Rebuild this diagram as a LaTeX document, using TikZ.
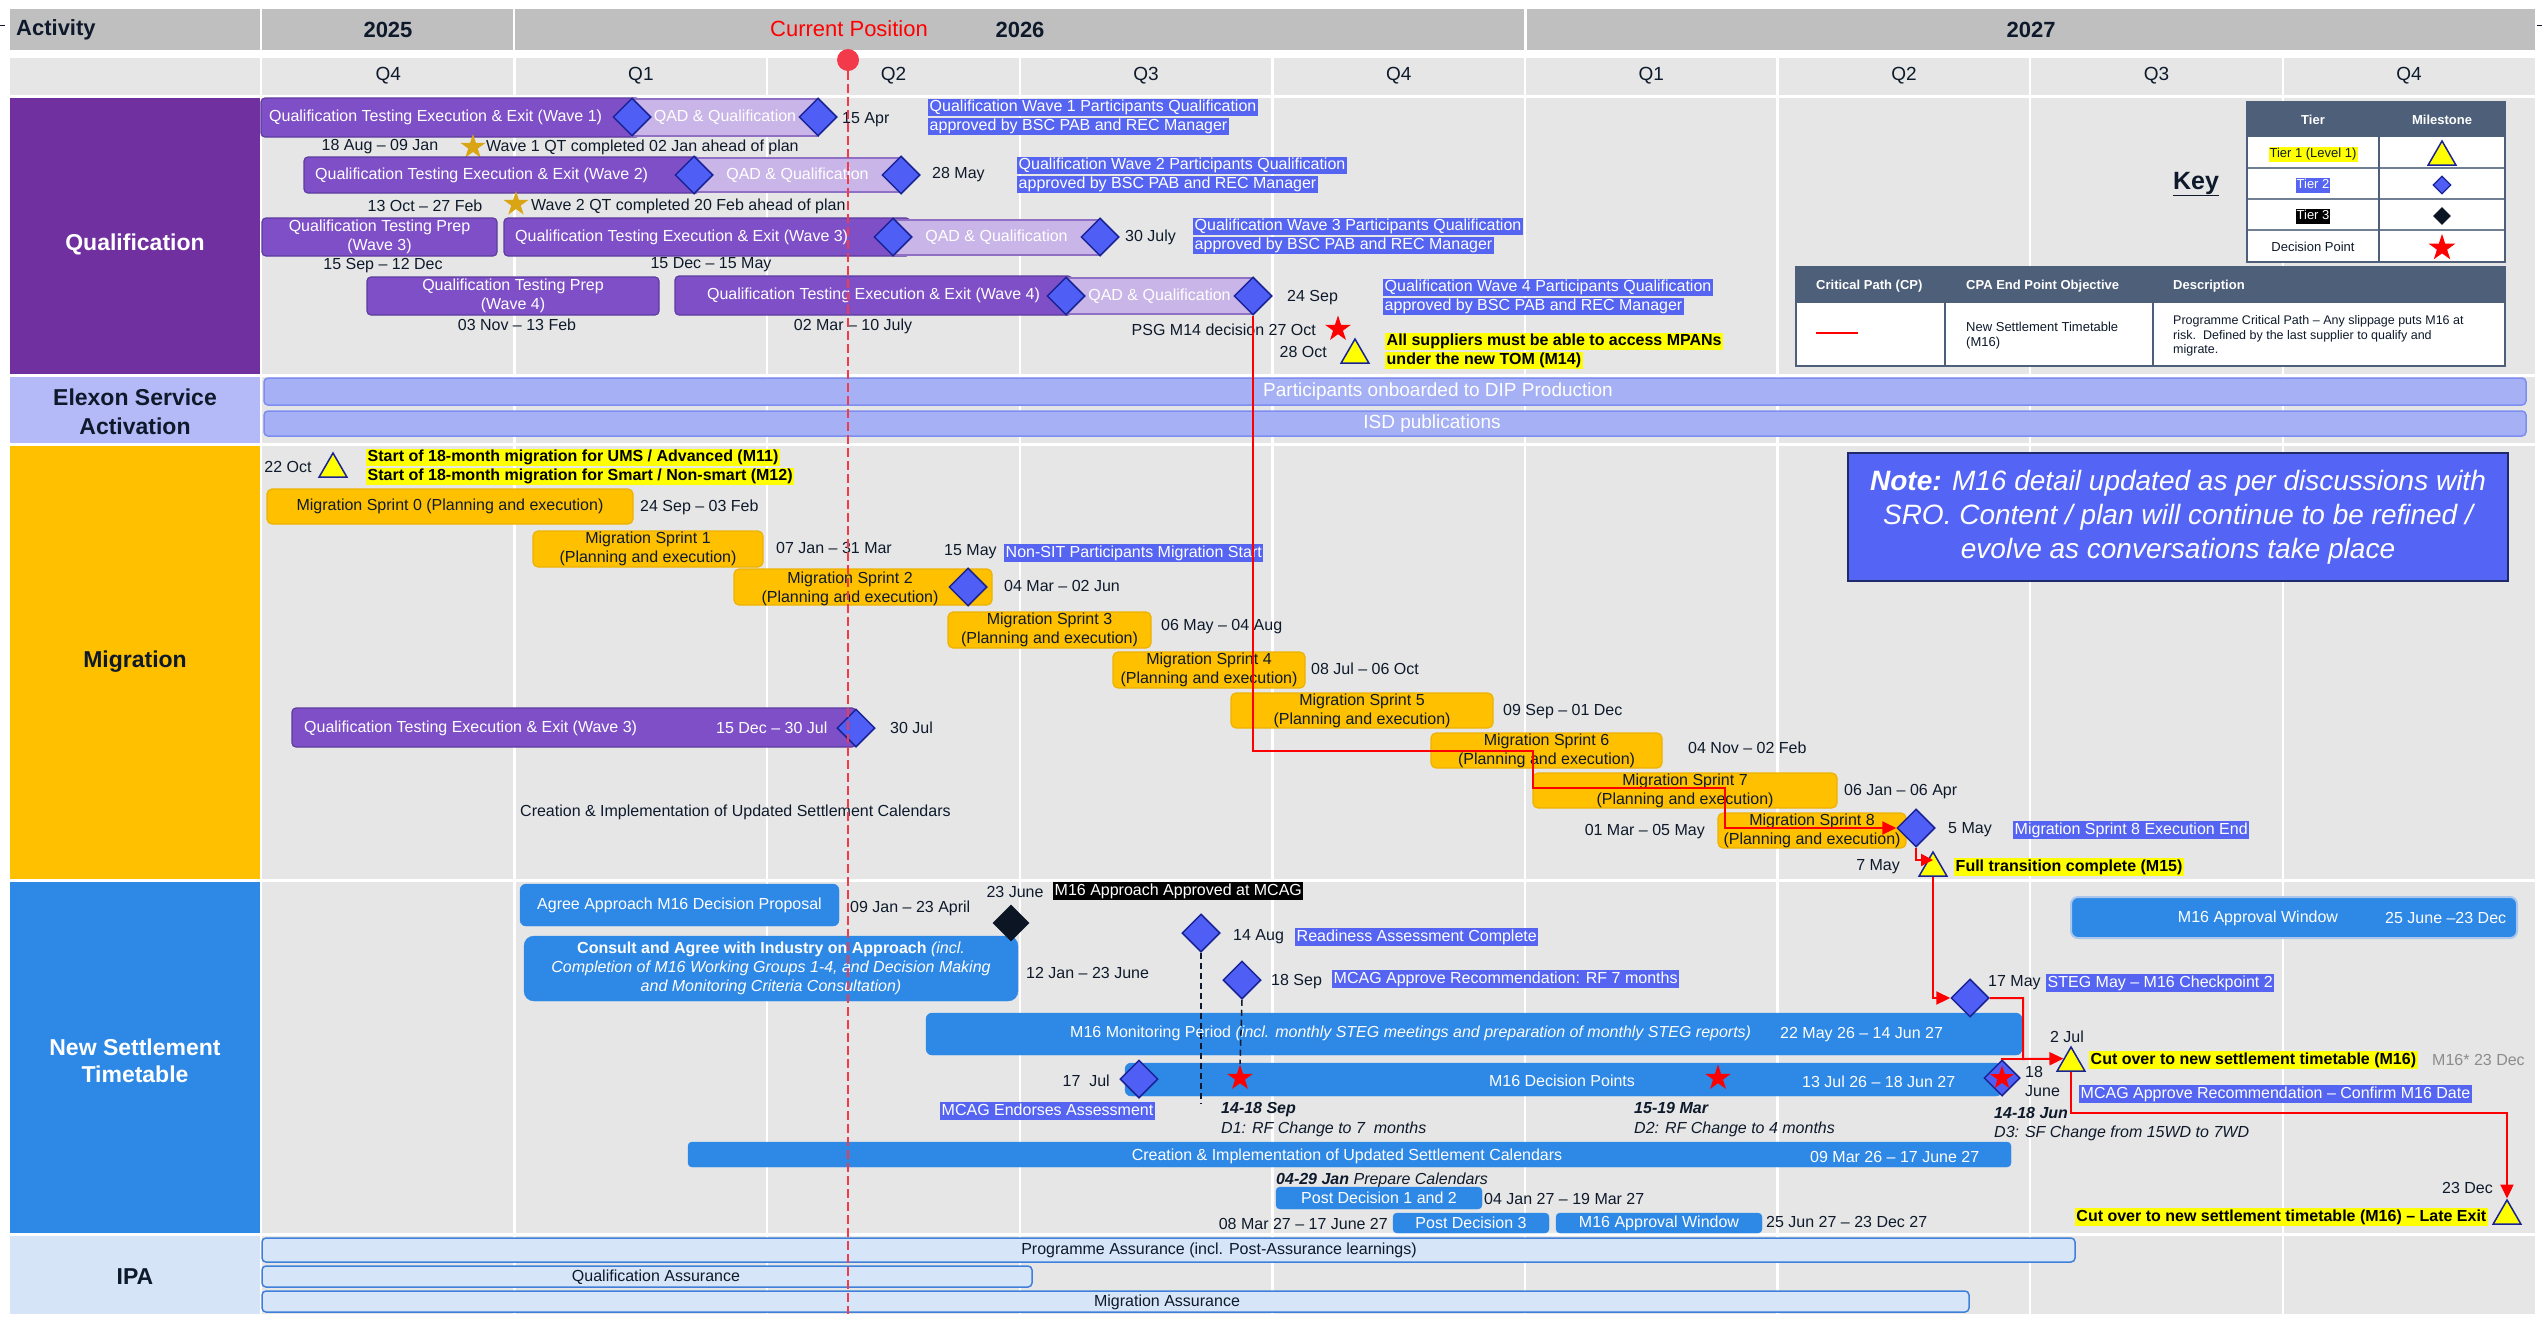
\documentclass[tikz,border=0pt]{standalone}
\usepackage{fontspec}
\setmainfont{Liberation Sans}
\usetikzlibrary{shapes.geometric,arrows.meta}

% palette
\definecolor{ink}{HTML}{0E1A2B}
\definecolor{yeargray}{HTML}{BFBFBF}
\definecolor{cellgray}{HTML}{E6E6E6}
\definecolor{qualpurple}{HTML}{7030A0}
\definecolor{execfill}{HTML}{7F4FC7}
\definecolor{execedge}{HTML}{5E3B9E}
\definecolor{qadfill}{HTML}{C9B5E7}
\definecolor{qadedge}{HTML}{8F70C4}
\definecolor{msfill}{HTML}{4F5FF5}
\definecolor{msedge}{HTML}{1A2396}
\definecolor{blackdia}{HTML}{0B1524}
\definecolor{hlblue}{HTML}{5565F2}
\definecolor{elexlab}{HTML}{B3BAF7}
\definecolor{elexfill}{HTML}{A5B0F5}
\definecolor{elexedge}{HTML}{7D8DF1}
\definecolor{miggold}{HTML}{FFC000}
\definecolor{migedge}{HTML}{EDB100}
\definecolor{nstblue}{HTML}{2E88E6}
\definecolor{nstedge}{HTML}{A9C7EC}
\definecolor{ipalab}{HTML}{D5E4F7}
\definecolor{ipafill}{HTML}{D6E5F8}
\definecolor{ipaedge}{HTML}{3F80DA}
\definecolor{keyhead}{HTML}{4E5F7A}
\definecolor{hlyellow}{HTML}{FFFF00}
\definecolor{cpred}{HTML}{FF0000}
\definecolor{nowred}{HTML}{F23A4A}
\definecolor{starGold}{HTML}{D9A514}
\definecolor{softgray}{HTML}{8C8C8C}
\definecolor{notefill}{HTML}{5464F4}
\definecolor{noteedge}{HTML}{1E2A6A}

\newcommand\fsz[2]{\fontsize{#1}{#2}\selectfont}
\setlength\fboxsep{0pt}
\newcommand\hstrut{\rule[-4.5pt]{0pt}{17.5pt}}
\newcommand\hlb[1]{\colorbox{hlblue}{\hstrut\kern1.5pt\textcolor{white}{#1}\kern1.5pt}}
\newcommand\hly[1]{\colorbox{hlyellow}{\hstrut\kern1.5pt\textbf{#1}\kern1.5pt}}
\newcommand\hlk[1]{\colorbox{black}{\hstrut\kern1.5pt\textcolor{white}{#1}\kern1.5pt}}
\newcommand\hlsmall[3]{\colorbox{#1}{\strut\kern1pt\textcolor{#2}{#3}\kern1pt}}

% bar from (x1,y1) to (x2,y2): name, style, x1, y1, x2, y2, text
\newcommand\ganttbar[7]{%
  \pgfmathsetmacro\gbW{#5-#3}%
  \pgfmathsetmacro\gbH{#6-#4}%
  \pgfmathsetmacro\gbX{(#3+#5)/2}%
  \pgfmathsetmacro\gbY{(#4+#6)/2}%
  \node[#2, minimum width=\gbW pt, minimum height=\gbH pt] (#1) at (\gbX,\gbY) {#7};%
}

\tikzset{
  txt/.style={inner sep=0pt, font=\fsz{16}{19}, text=ink},
  hdr/.style={inner sep=0pt, font=\fsz{22}{26}\bfseries, text=ink},
  qtr/.style={inner sep=0pt, font=\fsz{19}{22}, text=ink},
  seclab/.style={inner sep=0pt, font=\fsz{23}{28}\bfseries, text=ink, align=center},
  hl/.style={inner sep=0pt, font=\fsz{16}{19}, align=left},
  execbar/.style={draw=execedge, fill=execfill, line width=1.2pt, rounded corners=4pt, inner sep=0pt, text=white, font=\fsz{16}{19}, align=center},
  qadbar/.style={draw=qadedge, fill=qadfill, line width=1.2pt, inner sep=0pt, text=white, font=\fsz{16}{19}},
  bartxt/.style={inner sep=0pt, font=\fsz{16}{19}, text=white},
  elexbar/.style={draw=elexedge, fill=elexfill, line width=1.5pt, rounded corners=4pt, inner sep=0pt},
  sprint/.style={draw=migedge, fill=miggold, line width=1.2pt, rounded corners=5pt, inner sep=0pt, align=center, font=\fsz{16}{19}, text=ink},
  nstbar/.style={draw=nstblue, fill=nstblue, rounded corners=6pt, inner sep=0pt, align=center, font=\fsz{16}{19}, text=white},
  ipabar/.style={draw=ipaedge, fill=ipafill, line width=1.5pt, rounded corners=4pt, inner sep=0pt},
  ms/.style={diamond, draw=msedge, fill=msfill, line width=1.5pt, minimum width=38pt, minimum height=38pt, inner sep=0pt},
  tierthree/.style={diamond, fill=blackdia, minimum width=37pt, minimum height=37pt, inner sep=0pt},
  tri/.style={regular polygon, regular polygon sides=3, draw=msedge, fill=hlyellow, line width=1.5pt, minimum size=32pt, inner sep=0pt},
  decstar/.style={star, star points=5, star point ratio=2.6, fill=red, minimum size=27pt, inner sep=0pt},
  goldstar/.style={decstar, fill=starGold, minimum size=26pt},
  cp/.style={draw=cpred, line width=2pt},
  cparrow/.style={cp, -{Triangle[length=14pt,width=13pt]}},
  keytxt/.style={inner sep=0pt, font=\fsz{13}{15}, text=ink},
  keyhd/.style={inner sep=0pt, font=\fsz{13}{15}\bfseries, text=white},
  nowline/.style={draw=nowred, line width=2pt, dash pattern=on 9pt off 4pt},
  guide/.style={draw=ink, line width=1.5pt, dash pattern=on 6pt off 4pt}
}

\begin{document}
\begin{tikzpicture}[x=1pt, y=-1pt]
\useasboundingbox (0,0) rectangle (2542,1318);
\fill[white] (0,0) rectangle (2542,1318);

% ---------------- grid ----------------
\fill[yeargray] (10,9) rectangle (260,50);
\fill[yeargray] (262,9) rectangle (513,50);
\fill[yeargray] (515,9) rectangle (1524,50);
\fill[yeargray] (1527,9) rectangle (2535,50);
\fill[cellgray] (10,58) rectangle (260,95);
\fill[cellgray] (262,58) rectangle (2535,95);
\fill[cellgray] (262,98) rectangle (2535,374);
\fill[cellgray] (262,377) rectangle (2535,443);
\fill[cellgray] (262,446) rectangle (2535,879);
\fill[cellgray] (262,882) rectangle (2535,1233);
\fill[cellgray] (262,1236) rectangle (2535,1314);
\foreach \k in {1,...,8}
  \draw[white, line width=2.5pt] ({262+252.6*\k},58) -- ({262+252.6*\k},1314);
\fill[qualpurple] (10,98) rectangle (260,374);
\fill[elexlab] (10,377) rectangle (260,443);
\fill[miggold] (10,446) rectangle (260,879);
\fill[nstblue] (10,882) rectangle (260,1233);
\fill[ipalab] (10,1236) rectangle (260,1314);
\draw[ink, line width=1pt] (0,25) -- (5,25);
\draw[ink, line width=1pt] (2537,25) -- (2542,25);

% ---------------- header ----------------
\node[hdr, anchor=west] (hAct) at (16,30) {Activity};
\node[hdr] (y2025) at (388,30) {2025};
\node[hdr] (y2026) at (1020,30) {2026};
\node[hdr] (y2027) at (2031,30) {2027};
\node[inner sep=0pt, font=\fsz{22}{26}, text=red] (curpos) at (849,29) {Current Position};
\foreach \i/\q in {1/Q4,2/Q1,3/Q2,4/Q3,5/Q4,6/Q1,7/Q2,8/Q3,9/Q4}
  \node[qtr] (qtr\i) at ({262+252.6*\i-126.3},76) {\q};

% ---------------- section labels ----------------
\node[seclab, text=white] (labQual) at (135,244) {Qualification};
\node[seclab, font=\fsz{23}{29}\bfseries] (labElex) at (135,412) {Elexon Service\\Activation};
\node[seclab] (labMig) at (135,662) {Migration};
\node[seclab, text=white, font=\fsz{23}{27}\bfseries] (labNst) at (135,1061) {New Settlement\\Timetable};
\node[seclab] (labIpa) at (135,1277) {IPA};

% ---------------- qualification ----------------
\ganttbar{w1exec}{execbar}{261}{98}{640}{137}{}
\node[bartxt, anchor=west] (w1exect) at (269,117) {Qualification Testing Execution \& Exit (Wave 1)};
\ganttbar{w1qad}{qadbar}{632}{99}{818}{136}{QAD \& Qualification}
\node[ms] (d1a) at (632,117) {};
\node[ms] (d1b) at (818,117) {};
\node[txt, anchor=west] (w1end) at (842,120) {15 Apr};
\node[txt] (w1dates) at (380,147) {18 Aug -- 09 Jan};
\node[goldstar] (s1) at (473,147) {};
\node[txt, anchor=west] (w1early) at (486,147) {Wave 1 QT completed 02 Jan ahead of plan};
\node[hl, anchor=west] (w1hl) at (928,117) {\hlb{Qualification Wave 1 Participants Qualification}\\\hlb{approved by BSC PAB and REC Manager}};

\ganttbar{w2exec}{execbar}{304}{157}{700}{193}{}
\node[bartxt, anchor=west] (w2exect) at (315,175) {Qualification Testing Execution \& Exit (Wave 2)};
\ganttbar{w2qad}{qadbar}{694}{158}{901}{192}{QAD \& Qualification}
\node[ms] (d2a) at (694,175) {};
\node[ms] (d2b) at (901,175) {};
\node[txt, anchor=west] (w2end) at (932,175) {28 May};
\node[txt] (w2dates) at (425,206) {13 Oct -- 27 Feb};
\node[goldstar] (s2) at (516,204) {};
\node[txt, anchor=west] (w2early) at (531,206) {Wave 2 QT completed 20 Feb ahead of plan};
\node[hl, anchor=west] (w2hl) at (1017,175) {\hlb{Qualification Wave 2 Participants Qualification}\\\hlb{approved by BSC PAB and REC Manager}};

\ganttbar{p3}{execbar}{262}{218}{497}{256}{Qualification Testing Prep\\(Wave 3)}
\node[txt] (p3dates) at (383,266) {15 Sep -- 12 Dec};
\ganttbar{w3exec}{execbar}{504}{218}{910}{256}{}
\node[bartxt, anchor=west] (w3exect) at (515,237) {Qualification Testing Execution \& Exit (Wave 3)};
\ganttbar{w3qad}{qadbar}{893}{220}{1100}{255}{QAD \& Qualification}
\node[ms] (d3a) at (893,237) {};
\node[ms] (d3b) at (1100,237) {};
\node[txt, anchor=west] (w3end) at (1125,237) {30 July};
\node[txt] (w3dates) at (711,265) {15 Dec -- 15 May};
\node[hl, anchor=west] (w3hl) at (1193,236) {\hlb{Qualification Wave 3 Participants Qualification}\\\hlb{approved by BSC PAB and REC Manager}};

\ganttbar{p4}{execbar}{367}{277}{659}{315}{Qualification Testing Prep\\(Wave 4)}
\node[txt] (p4dates) at (517,325) {03 Nov -- 13 Feb};
\ganttbar{w4exec}{execbar}{675}{276}{1072}{315}{Qualification Testing Execution \& Exit (Wave 4)}
\ganttbar{w4qad}{qadbar}{1066}{278}{1253}{314}{QAD \& Qualification}
\node[ms] (d4a) at (1066,296) {};
\node[ms] (d4b) at (1253,296) {};
\node[txt, anchor=west] (w4end) at (1287,298) {24 Sep};
\node[txt] (w4dates) at (853,326) {02 Mar -- 10 July};
\node[hl, anchor=west] (w4hl) at (1383,297) {\hlb{Qualification Wave 4 Participants Qualification}\\\hlb{approved by BSC PAB and REC Manager}};

\node[txt, anchor=east] (psg) at (1316,330) {PSG M14 decision 27 Oct};
\node[decstar] (psgstar) at (1338,329) {};
\node[txt, anchor=east] (m14date) at (1327,352) {28 Oct};
\node[tri] (tM14) at (1355,355) {};
\node[hl, anchor=west] (m14txt) at (1385,351) {\hly{All suppliers must be able to access MPANs}\\\hly{under the new TOM (M14)}};

% ---------------- key ----------------
\node[inner sep=0pt, font=\fsz{25}{28}\bfseries, text=ink] (keyttl) at (2196,184) {\underline{Key}};
\fill[keyhead] (2247,102) rectangle (2505,137);
\fill[white] (2247,137) rectangle (2505,262);
\foreach \yy in {168,199,230} \draw[keyhead!80, line width=1.2pt] (2247,\yy) -- (2505,\yy);
\draw[keyhead, line width=1.2pt] (2379,102) -- (2379,262);
\draw[keyhead, line width=1.5pt] (2247,102) rectangle (2505,262);
\node[keyhd] (kTier) at (2313,120) {Tier};
\node[keyhd] (kMile) at (2442,120) {Milestone};
\node[keytxt] (kT1) at (2313,154) {\hlsmall{hlyellow}{ink}{Tier 1 (Level 1)}};
\node[keytxt] (kT2) at (2313,185) {\hlsmall{hlblue}{white}{Tier 2}};
\node[keytxt] (kT3) at (2313,216) {\hlsmall{black}{white}{Tier 3}};
\node[keytxt] (kT4) at (2313,247) {Decision Point};
\node[tri] (ktri) at (2442,157) {};
\node[ms, minimum width=18pt, minimum height=18pt, line width=1.2pt] (kdia) at (2442,185) {};
\node[tierthree, minimum width=18pt, minimum height=18pt] (kblk) at (2442,216) {};
\node[decstar, minimum size=28pt] (kstar) at (2442,248) {};

\fill[keyhead] (1796,267) rectangle (2505,303);
\fill[white] (1796,303) rectangle (2505,366);
\draw[keyhead, line width=1.2pt] (1945,267) -- (1945,366);
\draw[keyhead, line width=1.2pt] (2153,267) -- (2153,366);
\draw[keyhead, line width=1.5pt] (1796,267) rectangle (2505,366);
\node[keyhd, anchor=west] (cpH1) at (1816,286) {Critical Path (CP)};
\node[keyhd, anchor=west] (cpH2) at (1966,286) {CPA End Point Objective};
\node[keyhd, anchor=west] (cpH3) at (2173,286) {Description};
\draw[cpred, line width=1.5pt] (1816,333) -- (1858,333);
\node[keytxt, anchor=west, align=left] (cpObj) at (1966,336) {New Settlement Timetable\\(M16)};
\node[keytxt, anchor=west, align=left, font=\fsz{12.5}{14.5}] (cpDesc) at (2173,336) {Programme Critical Path -- Any slippage puts M16 at\\risk.\ \ Defined by the last supplier to qualify and\\migrate.};

% ---------------- Elexon service activation ----------------
\ganttbar{dip}{elexbar}{264}{378}{2526}{405}{}
\node[inner sep=0pt, font=\fsz{19}{22}, text=white] (diptxt) at (1438,392) {Participants onboarded to DIP Production};
\ganttbar{isd}{elexbar}{264}{411}{2526}{436}{}
\node[inner sep=0pt, font=\fsz{19}{22}, text=white] (isdtxt) at (1432,424) {ISD publications};

% ---------------- migration ----------------
\node[txt] (m11date) at (288,467) {22 Oct};
\node[tri] (tM11) at (333,469) {};
\node[hl, anchor=west] (m11txt) at (366,467) {\hly{Start of 18-month migration for UMS / Advanced (M11)}\\\hly{Start of 18-month migration for Smart / Non-smart (M12)}};

\ganttbar{spr0}{sprint}{267}{489}{633}{524}{Migration Sprint 0 (Planning and execution)}
\node[txt, anchor=west] (spr0d) at (640,507) {24 Sep -- 03 Feb};
\ganttbar{spr1}{sprint}{533}{531}{763}{567}{Migration Sprint 1\\(Planning and execution)}
\node[txt, anchor=west] (spr1d) at (776,548) {07 Jan -- 31 Mar};
\node[txt, anchor=west] (nsitd) at (944,552) {15 May};
\node[hl, anchor=west] (nsit) at (1004,553) {\hlb{Non-SIT Participants Migration Start}};
\ganttbar{spr2}{sprint}{734}{569}{992}{605}{}
\node[txt, align=center] (spr2t) at (850,589) {Migration Sprint 2\\(Planning and execution)};
\node[ms] (dspr2) at (968,587) {};
\node[txt, anchor=west] (spr2d) at (1004,586) {04 Mar -- 02 Jun};
\ganttbar{spr3}{sprint}{948}{612}{1151}{648}{Migration Sprint 3\\(Planning and execution)}
\node[txt, anchor=west] (spr3d) at (1161,627) {06 May -- 04 Aug};
\ganttbar{spr4}{sprint}{1113}{652}{1305}{688}{Migration Sprint 4\\(Planning and execution)}
\node[txt, anchor=west] (spr4d) at (1311,669) {08 Jul -- 06 Oct};
\ganttbar{spr5}{sprint}{1231}{693}{1493}{728}{Migration Sprint 5\\(Planning and execution)}
\node[txt, anchor=west] (spr5d) at (1503,712) {09 Sep -- 01 Dec};
\ganttbar{spr6}{sprint}{1431}{733}{1662}{768}{Migration Sprint 6\\(Planning and execution)}
\node[txt, anchor=west] (spr6d) at (1688,748) {04 Nov -- 02 Feb};
\ganttbar{spr7}{sprint}{1533}{773}{1837}{808}{Migration Sprint 7\\(Planning and execution)}
\node[txt, anchor=west] (spr7d) at (1844,792) {06 Jan -- 06 Apr};
\ganttbar{spr8}{sprint}{1718}{813}{1906}{848}{Migration Sprint 8\\(Planning and execution)}
\node[txt, anchor=east] (spr8d) at (1705,832) {01 Mar -- 05 May};
\node[ms] (d5may) at (1916,828) {};
\node[txt, anchor=west] (d5mayt) at (1948,830) {5 May};
\node[hl, anchor=west] (spr8hl) at (2013,830) {\hlb{Migration Sprint 8 Execution End}};
\node[tri] (tM15) at (1933,868) {};
\node[txt, anchor=east] (m15date) at (1900,867) {7 May};
\node[hl, anchor=west] (m15txt) at (1954,867) {\hly{Full transition complete (M15)}};

\ganttbar{mw3}{execbar}{292}{708}{856}{747}{}
\node[bartxt, anchor=west] (mw3t) at (304,728) {Qualification Testing Execution \& Exit (Wave 3)};
\node[bartxt, anchor=west] (mw3d) at (716,728) {15 Dec -- 30 Jul};
\node[ms] (dmw3) at (856,728) {};
\node[txt, anchor=west] (mw3end) at (890,728) {30 Jul};
\node[txt, anchor=west] (calnote) at (520,812) {Creation \& Implementation of Updated Settlement Calendars};

\node[draw=noteedge, fill=notefill, line width=2pt, minimum width=660pt, minimum height=128pt, inner sep=0pt, align=center, text=white, font=\fsz{28}{34}\itshape] (note) at (2178,517)
  {\textbf{Note:} M16 detail updated as per discussions with\\SRO. Content / plan will continue to be refined /\\evolve as conversations take place};

% ---------------- new settlement timetable ----------------
\ganttbar{agree}{nstbar}{520}{884}{839}{926}{Agree Approach M16 Decision Proposal}
\node[txt, anchor=west] (agreed) at (850,908) {09 Jan -- 23 April};
\ganttbar{consult}{nstbar, rounded corners=10pt}{524}{936}{1018}{1001}{\textbf{Consult and Agree with Industry on Approach} \textit{(incl.}\\\textit{Completion of M16 Working Groups 1-4, and Decision Making}\\\textit{and Monitoring Criteria Consultation)}}
\node[txt, anchor=west] (consultd) at (1026,973) {12 Jan -- 23 June};
\node[tierthree] (dapp) at (1011,923) {};
\node[txt] (dappd) at (1015,892) {23 June};
\node[hl, anchor=west] (dapphl) at (1053,891) {\hlk{M16 Approach Approved at MCAG}};

\ganttbar{monit}{nstbar}{926}{1013}{2022}{1055}{}
\node[bartxt, anchor=west] (monitt) at (1070,1033) {M16 Monitoring Period \textit{(incl. monthly STEG meetings and preparation of monthly STEG reports)}};
\node[bartxt, anchor=west] (monitd) at (1780,1035) {22 May 26 -- 14 Jun 27};
\ganttbar{decpts}{nstbar}{1125}{1063}{2002}{1096}{}
\node[bartxt] (decptst) at (1562,1081) {M16 Decision Points};
\node[bartxt, anchor=west] (decptsd) at (1802,1082) {13 Jul 26 -- 18 Jun 27};

\node[ms] (d14aug) at (1201,933) {};
\node[txt, anchor=west] (d14augt) at (1233,937) {14 Aug};
\node[hl, anchor=west] (d14aughl) at (1295,937) {\hlb{Readiness Assessment Complete}};
\node[ms] (d18sep) at (1242,980) {};
\node[txt, anchor=west] (d18sept) at (1271,982) {18 Sep};
\node[hl, anchor=west] (d18sephl) at (1332,979) {\hlb{MCAG Approve Recommendation: RF 7 months}};
\node[ms] (d17jul) at (1139,1079) {};
\node[txt, anchor=east] (d17jult) at (1110,1081) {17\ \ Jul};
\node[hl, anchor=west] (d17julhl) at (940,1111) {\hlb{MCAG Endorses Assessment}};
\node[decstar] (sD1) at (1240,1078) {};
\node[decstar] (sD2) at (1718,1078) {};
\node[txt, anchor=west, align=left, font=\fsz{16}{20}\itshape] (d1txt) at (1221,1120) {\textbf{14-18 Sep}\\D1: RF Change to 7\ \ months};
\node[txt, anchor=west, align=left, font=\fsz{16}{20}\itshape] (d2txt) at (1634,1120) {\textbf{15-19 Mar}\\D2: RF Change to 4 months};
\coordinate (d14foot) at (1201,1103);
\draw[guide] (d14aug.south) -- (d14foot);
\draw[guide] (d18sep.south) -- (sD1.north);

\ganttbar{creat}{nstbar, rounded corners=4pt}{688}{1142}{2011}{1167}{}
\node[bartxt] (creatt) at (1347,1156) {Creation \& Implementation of Updated Settlement Calendars};
\node[bartxt, anchor=west] (creatd) at (1810,1157) {09 Mar 26 -- 17 June 27};
\node[txt, anchor=west, font=\fsz{16}{19}\itshape] (prepcal) at (1276,1180) {\textbf{04-29 Jan} Prepare Calendars};
\ganttbar{pd12}{nstbar, rounded corners=4pt}{1276}{1187}{1482}{1209}{Post Decision 1 and 2}
\node[txt, anchor=west] (pd12d) at (1484,1199) {04 Jan 27 -- 19 Mar 27};
\node[txt, anchor=east] (pd3d) at (1388,1224) {08 Mar 27 -- 17 June 27};
\ganttbar{pd3}{nstbar, rounded corners=4pt}{1393}{1213}{1549}{1233}{Post Decision 3}
\ganttbar{awin}{nstbar, rounded corners=4pt}{1556}{1213}{1762}{1233}{M16 Approval Window}
\node[txt, anchor=west] (awind) at (1766,1222) {25 Jun 27 -- 23 Dec 27};

\ganttbar{awtop}{nstbar, draw=nstedge, line width=2pt, rounded corners=7pt}{2071}{897}{2517}{938}{}
\node[bartxt] (awtopt) at (2258,918) {M16 Approval Window};
\node[bartxt, anchor=west] (awtopd) at (2385,918) {25 June --23 Dec};

\node[ms] (d17may) at (1970,998) {};
\node[txt, anchor=west] (d17mayt) at (1988,983) {17 May};
\node[hl, anchor=west] (d17mayhl) at (2046,983) {\hlb{STEG May -- M16 Checkpoint 2}};
\node[ms, minimum width=36pt, minimum height=36pt] (d18jun) at (2002,1078) {};
\node[decstar, minimum size=25pt] (s18jun) at (2002,1078) {};
\node[txt, anchor=west, align=left] (d18junt) at (2025,1081) {18\\June};
\node[txt, anchor=west, align=left, font=\fsz{16}{19}\itshape] (d3txt) at (1994,1124) {\textbf{14-18 Jun}\\D3: SF Change from 15WD to 7WD};
\node[tri] (t2jul) at (2071,1063) {};
\node[txt] (t2jult) at (2067,1037) {2 Jul};
\node[hl, anchor=west] (m16txt) at (2089,1060) {\hly{Cut over to new settlement timetable (M16)}};
\node[txt, anchor=west, text=softgray] (m16star) at (2432,1060) {M16* 23 Dec};
\node[hl, anchor=west] (m16hl) at (2079,1094) {\hlb{MCAG Approve Recommendation -- Confirm\ M16 Date}};
\node[tri] (tLate) at (2507,1216) {};
\node[txt, anchor=east] (tLated) at (2493,1188) {23 Dec};
\node[hl, anchor=east] (latetxt) at (2488,1217) {\hly{Cut over to new settlement timetable (M16) -- Late Exit}};

% ---------------- IPA ----------------
\ganttbar{pa}{ipabar}{262}{1238}{2075}{1262}{}
\node[txt] (pat) at (1219,1250) {Programme Assurance (incl. Post-Assurance learnings)};
\ganttbar{qa}{ipabar}{262}{1266}{1032}{1287}{}
\node[txt] (qat) at (656,1277) {Qualification Assurance};
\ganttbar{ma}{ipabar}{262}{1291}{1969}{1312}{}
\node[txt] (mat) at (1167,1302) {Migration Assurance};

% ---------------- critical path ----------------
\coordinate (cpB) at (1533,751);
\coordinate (cpC) at (1725,788);
\draw[cparrow] (d4b.south) |- (cpB) |- (cpC) |- (d5may.west);
\coordinate (m15in) at (1916,860);
\draw[cparrow, -{Triangle[length=12pt,width=12pt]}] (d5may.south) -- (m15in) -- (m15in -| tM15);
\draw[cparrow] (tM15.south) |- (d17may.west);
\coordinate (cpjoin) at (2023,1059);
\draw[cparrow] (d17may.east) -| (cpjoin) -- (t2jul.150);
\draw[cp] (d18jun.north) |- (cpjoin);
\coordinate (cpturn) at (2507,1113);
\draw[cparrow] (t2jul.south) |- (cpturn) -- (tLate.north);

% ---------------- current position ----------------
\node[circle, fill=nowred, minimum size=22pt, inner sep=0pt] (nowdot) at (848,60) {};
\coordinate (nowend) at (848,1314);
\draw[nowline] (nowdot.south) -- (nowend);
\end{tikzpicture}
\end{document}
